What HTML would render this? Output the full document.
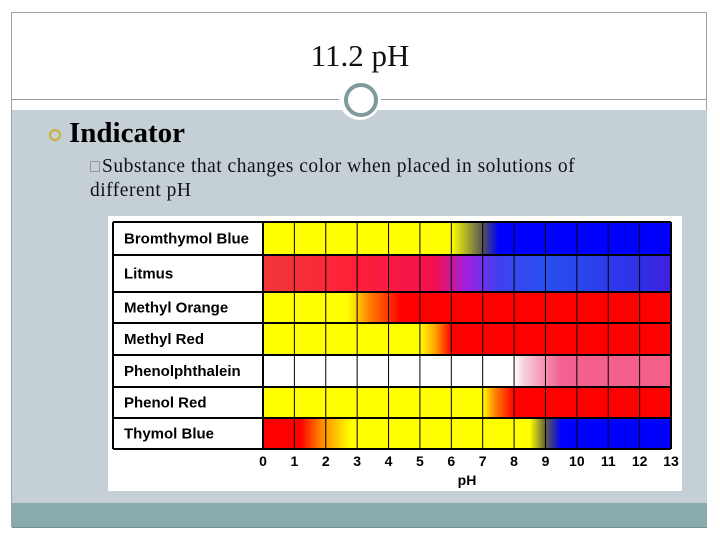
<!DOCTYPE html>
<html><head><meta charset="utf-8"><style>
body{margin:0;width:720px;height:540px;background:#fff;position:relative;overflow:hidden;font-family:"Liberation Serif",serif}
.abs{position:absolute}
</style></head><body>
<div class="abs" style="left:11px;top:12px;width:696px;height:515px;border:1px solid #9aa5a8;box-sizing:border-box;background:#fff"></div>
<div class="abs" style="left:12px;top:110px;width:695px;height:393px;background:#c5d0d6"></div>
<div class="abs" style="left:12px;top:99px;width:695px;height:1px;background:#8e9a9e"></div>
<div class="abs" style="left:12px;top:503px;width:695px;height:24px;background:#8aabab;border-bottom:1px solid #6f8f8f"></div>
<div class="abs" style="left:339px;top:78px;width:42px;height:42px;border-radius:50%;background:#fff"></div>
<div class="abs" style="left:344px;top:83px;width:26px;height:26px;border-radius:50%;border:4px solid #7f9a9a;background:#fff"></div>
<div class="abs" style="left:0;top:38px;width:720px;text-align:center;font-size:31px;color:#111">11.2 pH</div>
<div class="abs" style="left:49px;top:129px;width:8px;height:8px;border-radius:50%;border:2px solid #c8b030"></div>
<div class="abs" style="left:69px;top:117px;font-size:29px;font-weight:bold;color:#000">Indicator</div>
<div class="abs" style="left:90px;top:161px;width:8px;height:9px;border:1px solid #999"></div>
<div class="abs" style="left:90px;top:155px;width:515px;font-size:19.5px;letter-spacing:0.5px;line-height:24px;color:#111;text-indent:12px">Substance that changes color when placed in solutions of different pH</div>
<div class="abs" style="left:108px;top:216px;width:574px;height:275px;background:#fff"></div>
<svg class="abs" style="left:0;top:0" width="720" height="540">
<defs id="defs"></defs><g id="g"></g></svg>
<script>
const indicators=["Bromthymol Blue","Litmus","Methyl Orange","Methyl Red","Phenolphthalein","Phenol Red","Thymol Blue"];
const stopPH=[
[0,6,7,7.5,13],
[0,3,5.5,6.5,7.5,9,12,13],
[0,2.7,3.4,4.4,13],
[0,5,5.5,6,13],
[0,8,8.3,9.5,13],
[0,7,7.4,8,13],
[0,1.2,1.8,2.8,8.5,9,9.5,13]];
const stopColor=[
["#ffff00","#ffff00","#555555","#0000ff","#0000ff"],
["#f03838","#ff2038","#f01050","#a020e0","#4040f0","#2850f0","#3030e8","#4020e0"],
["#ffff00","#ffff00","#ff8000","#ff0000","#ff0000"],
["#ffff00","#ffff00","#ffa000","#ff0000","#ff0000"],
["#ffffff","#ffffff","#f8d0dc","#f46090","#f46088"],
["#ffff00","#ffff00","#ff8000","#ff0000","#ff0000"],
["#ff0000","#ff0000","#ff8000","#ffff00","#ffff00","#606040","#0000ff","#0000ff"]];
const ticks=[0,1,2,3,4,5,6,7,8,9,10,11,12,13];
const rowEdges=[222,255,292,323,355,387,418,449];
const x0=263,x1=671,left=113;
const xs=p=>x0+(x1-x0)*p/13;
const NS="http://www.w3.org/2000/svg";
const g=document.getElementById('g'),defs=document.getElementById('defs');
function mk(t,a){const e=document.createElementNS(NS,t);for(const k in a)e.setAttribute(k,a[k]);return e;}
indicators.forEach((name,i)=>{
 const lg=mk('linearGradient',{id:'gr'+i,x1:0,x2:1,y1:0,y2:0});
 stopPH[i].forEach((p,j)=>{lg.appendChild(mk('stop',{offset:p/13,'stop-color':stopColor[i][j]}));});
 defs.appendChild(lg);
 const y=rowEdges[i],h=rowEdges[i+1]-rowEdges[i];
 const r=mk('rect',{x:x0,y:y,width:x1-x0,height:h,fill:'url(#gr'+i+')'});
 
 
 g.appendChild(r);
 const t=mk('text',{x:left+11,y:y+h/2+5,'font-family':'Liberation Sans, sans-serif','font-size':15,'font-weight':'bold',fill:'#000'});
 t.textContent=name;
 
 
 g.appendChild(t);
});
rowEdges.forEach(y=>{const l=mk('line',{x1:left,x2:x1,y1:y,y2:y,stroke:'#000','stroke-width':2});
 g.appendChild(l);});
[left,...ticks.map(xs)].forEach((x,k)=>{const l=mk('line',{x1:x,x2:x,y1:rowEdges[0],y2:rowEdges[rowEdges.length-1],stroke:'#000','stroke-width':(k<2||k==ticks.length)?2:1});
 g.appendChild(l);});
ticks.forEach(p=>{const t=mk('text',{x:xs(p),y:466,'text-anchor':'middle','font-family':'Liberation Sans, sans-serif','font-size':14,'font-weight':'bold',fill:'#000'});
 t.textContent=p;g.appendChild(t);});
const at=mk('text',{x:xs(6.5),y:485,'text-anchor':'middle','font-family':'Liberation Sans, sans-serif','font-size':14,'font-weight':'bold',fill:'#000'});
at.textContent='pH';g.appendChild(at);
</script>
</body></html>
